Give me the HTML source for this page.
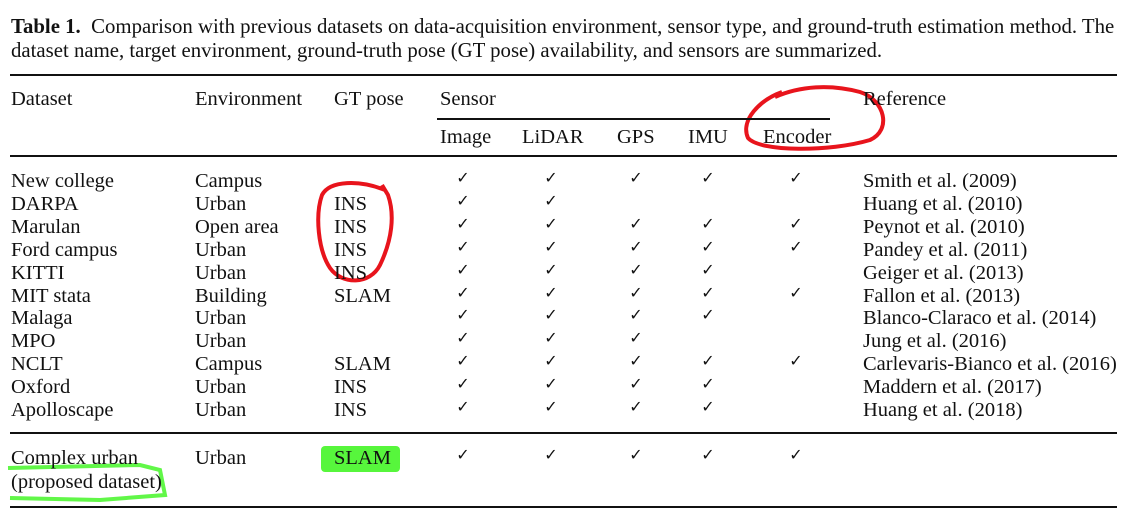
<!DOCTYPE html>
<html><head><meta charset="utf-8"><style>
body{margin:0;background:#fff;width:1128px;height:526px;overflow:hidden;position:relative;font-family:"Liberation Serif",serif;color:#111}
.t{position:absolute;font-size:20.5px;line-height:22px;white-space:nowrap}
.c{position:absolute;font-family:"DejaVu Sans",sans-serif;font-size:16px;line-height:22px;width:20px;text-align:center}
.r{position:absolute;background:#111;left:10px;width:1107px}
</style></head><body>
<svg width="1128" height="526" style="position:absolute;left:0;top:0">
<path d="M782 92 C 760 100,740 120,748 138 C 760 152,830 152,870 140 C 892 130,885 100,860 92 C 830 84,800 86,775 97" fill="none" stroke="#e8141c" stroke-width="4"/>
<path d="M385 190 C 360 180,330 180,322 195 C 315 215,318 250,330 268 C 342 285,370 285,380 265 C 392 240,395 215,388 195 L 382 185" fill="none" stroke="#e8141c" stroke-width="4"/>
<rect x="321" y="446" width="79" height="26" fill="#39f51a" opacity="0.85" rx="4"/>
<path d="M8 468 L140 465 L160 470 L165 495 L100 500 L10 498" fill="none" stroke="#39f51a" stroke-width="4" opacity="0.8"/>
</svg>
<div class="t" style="left:11px;top:16px;font-size:20.8px"><b>Table 1.</b>&nbsp; Comparison with previous datasets on data-acquisition environment, sensor type, and ground-truth estimation method. The</div>
<div class="t" style="left:11px;top:40px;font-size:20.8px">dataset name, target environment, ground-truth pose (GT pose) availability, and sensors are summarized.</div>
<div class="r" style="top:74px;height:2px"></div>
<div class="r" style="top:118px;height:1.5px;left:437px;width:393px"></div>
<div class="r" style="top:155px;height:2px"></div>
<div class="r" style="top:432px;height:2px"></div>
<div class="r" style="top:506px;height:2px"></div>
<div id="tbl"></div>
<script>
const datasets=["New college","DARPA","Marulan","Ford campus","KITTI","MIT stata","Malaga","MPO","NCLT","Oxford","Apolloscape"];
const envs=["Campus","Urban","Open area","Urban","Urban","Building","Urban","Urban","Campus","Urban","Urban"];
const gt=["","INS","INS","INS","INS","SLAM","","","SLAM","INS","INS"];
const refs=["Smith et al. (2009)","Huang et al. (2010)","Peynot et al. (2010)","Pandey et al. (2011)","Geiger et al. (2013)","Fallon et al. (2013)","Blanco-Claraco et al. (2014)","Jung et al. (2016)","Carlevaris-Bianco et al. (2016)","Maddern et al. (2017)","Huang et al. (2018)"];
const sensors=[[1,1,1,1,1],[1,1,0,0,0],[1,1,1,1,1],[1,1,1,1,1],[1,1,1,1,0],[1,1,1,1,1],[1,1,1,1,0],[1,1,1,0,0],[1,1,1,1,1],[1,1,1,1,0],[1,1,1,1,0]];
const root=document.getElementById('tbl');
function txt(s,x,y,name){const d=document.createElement('div');d.className='t';d.style.left=x+'px';d.style.top=y+'px';d.textContent=s;


root.appendChild(d);}
function chk(x,y,name){const d=document.createElement('div');d.className='c';d.style.left=(x-10)+'px';d.style.top=y+'px';d.textContent='✓';


root.appendChild(d);}
txt("Dataset",11,88,'header-dataset');txt("Environment",195,88,'header-environment');txt("GT pose",334,88,'header-gt-pose');txt("Sensor",440,88,'header-sensor');txt("Reference",863,88,'header-reference');
txt("Image",440,126,'header-image');txt("LiDAR",522,126,'header-lidar');txt("GPS",617,126,'header-gps');txt("IMU",688,126,'header-imu');txt("Encoder",763,126,'header-encoder');
const cx=[463,551,636,708,796];
datasets.forEach((n,i)=>{const y=170+i*22.9;
txt(n,11,y,'dataset-name');txt(envs[i],195,y,'environment');if(gt[i])txt(gt[i],334,y,'gt-pose');txt(refs[i],863,y,'reference');
sensors[i].forEach((v,j)=>{if(v)chk(cx[j],y-3,'sensor-check');});});
txt("Complex urban",11,447,'proposed-name');txt("(proposed dataset)",11,471,'proposed-name-line2');txt("Urban",195,447,'proposed-environment');txt("SLAM",334,447,'proposed-gt-pose');
cx.forEach(x=>chk(x,444,'proposed-check'));
</script>
</body></html>
